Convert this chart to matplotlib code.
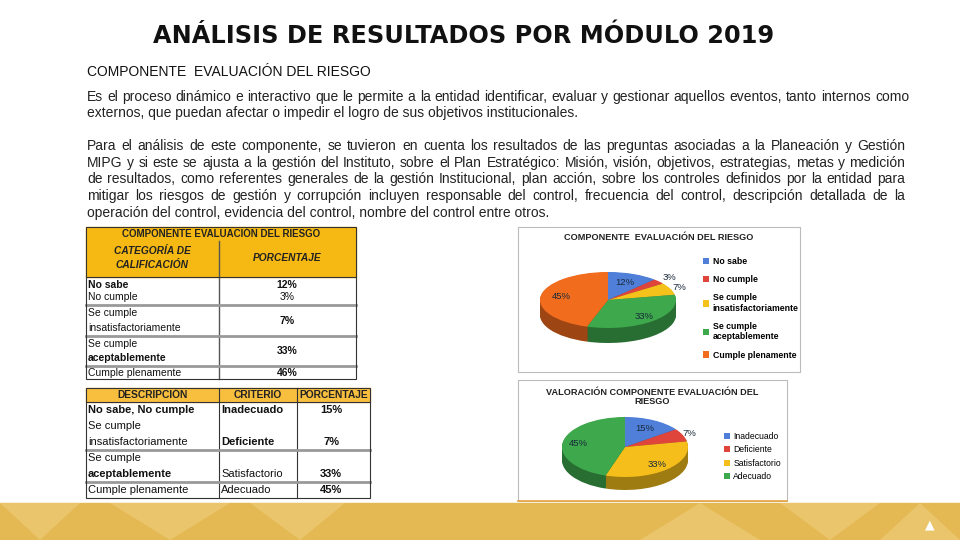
import matplotlib
matplotlib.use("Agg")
import matplotlib.pyplot as plt
from matplotlib.patches import Rectangle, Polygon
import numpy as np

# ---------------- data ----------------
title = "ANÁLISIS DE RESULTADOS POR MÓDULO 2019"
subtitle = "COMPONENTE  EVALUACIÓN DEL RIESGO"
para1 = [
    "Es el proceso dinámico e interactivo que le permite a la entidad identificar, evaluar y gestionar aquellos eventos, tanto internos como",
    "externos, que puedan afectar o impedir el logro de sus objetivos institucionales.",
]
para2 = [
    "Para el análisis de este componente, se tuvieron en cuenta los resultados de las preguntas asociadas a la Planeación y Gestión",
    "MIPG y si este se ajusta a la gestión del Instituto, sobre el Plan Estratégico: Misión, visión, objetivos, estrategias, metas y medición",
    "de resultados, como referentes generales de la gestión Institucional, plan acción, sobre los controles definidos por la entidad para",
    "mitigar los riesgos de gestión y corrupción incluyen responsable del control, frecuencia del control, descripción detallada de la",
    "operación del control, evidencia del control, nombre del control entre otros.",
]

pie1_title = "COMPONENTE  EVALUACIÓN DEL RIESGO"
pie1_labels = ["No sabe", "No cumple", "Se cumple\ninsatisfactoriamente",
               "Se cumple\naceptablemente", "Cumple plenamente"]
pie1_values = [12, 3, 7, 33, 45]
pie1_colors = ["#4F7FD8", "#E0453B", "#F5C21B", "#3DA84C", "#F26C1E"]

pie2_title = "VALORACIÓN COMPONENTE EVALUACIÓN DEL\nRIESGO"
pie2_labels = ["Inadecuado", "Deficiente", "Satisfactorio", "Adecuado"]
pie2_values = [15, 7, 33, 45]
pie2_colors = ["#4F7FD8", "#E0453B", "#F5BE1B", "#3DA84C"]

t1_title = "COMPONENTE EVALUACIÓN DEL RIESGO"
t1_head = ["CATEGORÍA DE\nCALIFICACIÓN", "PORCENTAJE"]
t1_cats = [["No sabe", "No cumple"], ["Se cumple", "insatisfactoriamente"],
           ["Se cumple", "aceptablemente"], ["Cumple plenamente"]]
t1_pcts = [["12%", "3%"], ["7%"], ["33%"], ["46%"]]

t2_head = ["DESCRIPCIÓN", "CRITERIO", "PORCENTAJE"]
t2_desc = ["No sabe, No cumple", "Se cumple\ninsatisfactoriamente",
           "Se cumple\naceptablemente", "Cumple plenamente"]
t2_crit = ["Inadecuado", "Deficiente", "Satisfactorio", "Adecuado"]
t2_pct = ["15%", "7%", "33%", "45%"]

# ---------------- figure ----------------
W, H = 960, 540
fig = plt.figure(figsize=(W / 100, H / 100), dpi=100)
fig.patch.set_facecolor("white")
ax = fig.add_axes([0, 0, 1, 1])
ax.set_xlim(0, W)
ax.set_ylim(H, 0)
ax.axis("off")
renderer = fig.canvas.get_renderer()
SANS = ["Liberation Sans", "DejaVu Sans"]

# footer band
ax.add_patch(Rectangle((0, 503), W, 37, color="#E4B852", zorder=1))
tri = [[(0, 503), (40, 540), (80, 503)], [(110, 503), (170, 540), (230, 503)],
       [(250, 503), (300, 540), (345, 503)], [(640, 540), (700, 503), (760, 540)],
       [(780, 503), (830, 540), (880, 503)], [(880, 540), (920, 503), (960, 540)]]
for t in tri:
    ax.add_patch(Polygon(t, closed=True, color="#EDCB78", alpha=0.7, lw=0, zorder=1.1))
ax.text(930, 525, "▲", color="white", fontsize=9, ha="center", va="center", zorder=2)

# title
ax.text(464, 36, title, fontsize=17.3, fontweight="bold", family="DejaVu Sans",
        ha="center", va="center", color="#111111")
ax.text(87, 72, subtitle, fontsize=10, family=SANS, ha="left", va="center", color="#111111")


def justify(line, x0, x1, y, fs, last=False):
    yb = y + 4
    if last:
        ax.text(x0, yb, line, fontsize=fs, family=SANS, va="baseline", ha="left",
                color="#222222")
        return
    words = line.split()
    ts = [ax.text(0, yb, w, fontsize=fs, family=SANS, va="baseline", ha="left",
                  color="#222222") for w in words]
    widths = [t.get_window_extent(renderer).width for t in ts]
    gap = (x1 - x0 - sum(widths)) / (len(words) - 1)
    x = x0
    for t, w in zip(ts, widths):
        t.set_x(x)
        x += w + gap


FS = 10
y = 97
for i, line in enumerate(para1):
    justify(line, 87, 909, y, FS, last=(i == len(para1) - 1))
    y += 16.5
y = 146
for i, line in enumerate(para2):
    justify(line, 87, 905, y, FS, last=(i == len(para2) - 1))
    y += 16.7

# ---------------- table 1 ----------------
GOLD1 = "#F6B913"
x0, xm, x1 = 86, 219, 356
ax.add_patch(Rectangle((x0, 227), x1 - x0, 50, color=GOLD1, zorder=2))
ax.text((x0 + x1) / 2, 234, t1_title, fontsize=7, fontweight="bold", family=SANS,
        ha="center", va="center", zorder=3, color="#222")
ax.text(152, 258, t1_head[0], fontsize=7.3, fontweight="bold", style="italic", family=SANS,
        ha="center", va="center", zorder=3, linespacing=1.4, color="#222")
ax.text(287, 258, t1_head[1], fontsize=7.3, fontweight="bold", style="italic", family=SANS,
        ha="center", va="center", zorder=3, color="#222")
ax.plot([xm, xm], [241, 379], color="#555555", lw=1, zorder=3)
rows1 = [277, 305, 336, 366, 379]
for yy in rows1[1:-1]:
    ax.plot([x0, x1], [yy, yy], color="#999999", lw=2, zorder=3)
ax.plot([x0, x1], [277, 277], color="#333333", lw=0.8, zorder=3)
ax.add_patch(Rectangle((x0, 227), x1 - x0, 152, fill=False, ec="#333333", lw=0.8, zorder=4))
for i, (cats, pcts) in enumerate(zip(t1_cats, t1_pcts)):
    top, bot = rows1[i], rows1[i + 1]
    n = len(cats)
    step = (bot - top) / (n + 0.2)
    for j, c in enumerate(cats):
        yy = top + step * (j + 0.6)
        bold = (i == 0 and j == 0) or (i == 2 and j == 1)
        ax.text(88, yy, c, fontsize=7.5, family=SANS, fontweight="bold" if bold else "normal",
                ha="left", va="center", zorder=3, color="#111")
    m = len(pcts)
    for j, p in enumerate(pcts):
        yy = (top + bot) / 2 if m == 1 else top + step * (j + 0.6)
        ax.text(287, yy, p, fontsize=7.5, family=SANS,
                fontweight="bold" if j == 0 else "normal",
                ha="center", va="center", zorder=3, color="#111")

# ---------------- table 2 ----------------
GOLD2 = "#F8BF3E"
cx = [86, 219, 297, 370]
rows2 = [388, 402, 418, 450, 482, 498]
ax.add_patch(Rectangle((86, 388), 284, 14, color=GOLD2, zorder=2))
for k, h in enumerate(t2_head):
    ax.text((cx[k] + cx[k + 1]) / 2, 395, h, fontsize=7.4, fontweight="bold", family=SANS,
            ha="center", va="center", zorder=3, color="#222")
for xx in cx[1:-1]:
    ax.plot([xx, xx], [388, 498], color="#333333", lw=0.8, zorder=3)
ax.plot([86, 370], [402, 402], color="#333333", lw=0.8, zorder=3)
for yy in rows2[3:5]:
    ax.plot([86, 370], [yy, yy], color="#999999", lw=2, zorder=3)
ax.add_patch(Rectangle((86, 388), 284, 110, fill=False, ec="#333333", lw=0.8, zorder=4))
for i in range(4):
    top, bot = rows2[i + 1], rows2[i + 2]
    lines = t2_desc[i].split("\n")
    ys = [(top + bot) / 2] if len(lines) == 1 else [top + 8, bot - 8]
    for j, l in enumerate(lines):
        bold = (i == 0) or (i == 2 and j == 1)
        ax.text(88, ys[j], l, fontsize=8, family=SANS, fontweight="bold" if bold else "normal",
                ha="left", va="center", zorder=3, color="#111")
    yb = ys[-1]
    ax.text(221, yb, t2_crit[i], fontsize=8, family=SANS,
            fontweight="bold" if i < 2 else "normal", ha="left", va="center", zorder=3, color="#111")
    ax.text(331, yb, t2_pct[i], fontsize=8, family=SANS, fontweight="bold",
            ha="center", va="center", zorder=3, color="#111")


# ---------------- 3D-ish pies ----------------
def darker(c, f=0.65):
    r, g, b = matplotlib.colors.to_rgb(c)
    return (r * f, g * f, b * f)


def pie3d(cxp, cyp, rx, ry, depth, values, colors, label_r):
    d = depth / ry
    pax = fig.add_axes([(cxp - rx) / W, (H - (cyp + ry + depth)) / H,
                        2 * rx / W, (2 * ry + depth) / H])
    for off in np.linspace(d, 0.02, 14):
        pax.pie(values, colors=[darker(c) for c in colors], startangle=90,
                counterclock=False, center=(0, -off), radius=1,
                wedgeprops=dict(linewidth=0))
    wedges, _ = pax.pie(values, colors=colors, startangle=90, counterclock=False,
                        center=(0, 0), radius=1, wedgeprops=dict(linewidth=0))
    pax.set_aspect("auto")
    pax.set_xlim(-1, 1)
    pax.set_ylim(-1 - d, 1)
    pax.axis("off")
    for w, v, r in zip(wedges, values, label_r):
        ang = np.deg2rad((w.theta1 + w.theta2) / 2)
        pax.text(r * np.cos(ang), r * np.sin(ang), f"{v}%", fontsize=6.8, family=SANS,
                 ha="center", va="center", color="#1a2a3a")
    return pax, wedges


# chart 1
ax.add_patch(Rectangle((518, 227), 282, 145, fill=False, ec="#BBBBBB", lw=0.8, zorder=2))
ax.text(659, 237, pie1_title, fontsize=6.6, fontweight="bold", family=SANS,
        ha="center", va="center", color="#222")
p1, w1 = pie3d(608, 300, 68, 28, 15, pie1_values, pie1_colors, [0.68, 1.2, 1.15, 0.8, 0.7])
fig.legend(w1, pie1_labels, loc="upper left", bbox_to_anchor=(703 / W, 1 - 257 / H),
           frameon=False, prop=dict(family=SANS, size=6.3, weight="bold"),
           handlelength=0.7, handleheight=0.7, handletextpad=0.4, labelspacing=1.05,
           borderpad=0, borderaxespad=0)

# chart 2
ax.add_patch(Rectangle((518, 380), 269, 121, fill=False, ec="#BBBBBB", lw=0.8, zorder=2))
ax.plot([518, 787], [501, 501], color="#E7A33A", lw=1.2, zorder=2)
ax.text(652, 397, pie2_title, fontsize=6.6, fontweight="bold", family=SANS,
        ha="center", va="center", color="#222", linespacing=1.1)
p2, w2 = pie3d(625, 447, 63, 30, 13, pie2_values, pie2_colors, [0.7, 1.12, 0.77, 0.75])
fig.legend(w2, pie2_labels, loc="upper left", bbox_to_anchor=(724 / W, 1 - 432 / H),
           frameon=False, prop=dict(family=SANS, size=6.2),
           handlelength=0.7, handleheight=0.7, handletextpad=0.4, labelspacing=0.5,
           borderpad=0, borderaxespad=0)

fig.savefig("out.png", dpi=100)
